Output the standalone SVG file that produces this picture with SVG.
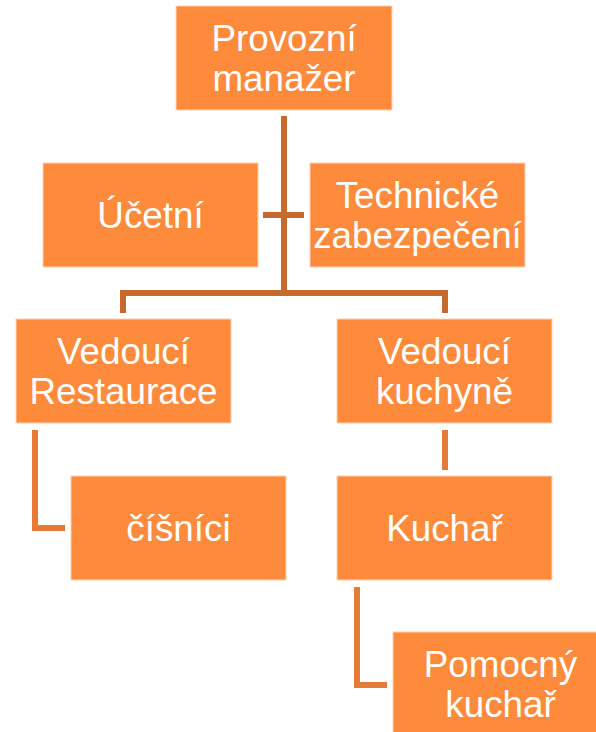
<svg xmlns="http://www.w3.org/2000/svg" width="596" height="732" viewBox="0 0 596 732">
<style>
.box{fill:#FE8A3B;stroke:#FFD2B4;stroke-width:1}
.t{font-family:"Liberation Sans",Arial,sans-serif;font-size:36.8px;fill:#FFFFFF;text-anchor:middle}
.c1{fill:none;stroke:#C86A2E;stroke-width:6}
.c2{fill:none;stroke:#E57B36;stroke-width:6}
</style>
<rect width="596" height="732" fill="#FFFFFF"/>
<g id="connectors">
<path class="c1" d="M284 116V293"/>
<path class="c1" d="M263 215H304"/>
<path class="c1" d="M123 313V293H445V313"/>
<path class="c2" d="M445 430V470"/>
<path class="c2" d="M35 430V528H65"/>
<path class="c2" d="M357 587V685H387"/>
</g>
<g id="provozni-manazer">
<rect class="box" x="176" y="6" width="216" height="104"/>
<text class="t" x="284" y="50.5">Provozní</text>
<text class="t" x="284" y="90.5">manažer</text>
</g>
<g id="ucetni">
<rect class="box" x="43" y="163" width="215" height="104"/>
<text class="t" x="150.5" y="227.5">Účetní</text>
</g>
<g id="technicke-zabezpeceni">
<rect class="box" x="310" y="163" width="215" height="104"/>
<text class="t" x="417.5" y="207.5">Technické</text>
<text class="t" x="417.5" y="247.5">zabezpečení</text>
</g>
<g id="vedouci-restaurace">
<rect class="box" x="16" y="319" width="215" height="104"/>
<text class="t" x="123.5" y="363.5">Vedoucí</text>
<text class="t" x="123.5" y="403.5">Restaurace</text>
</g>
<g id="vedouci-kuchyne">
<rect class="box" x="337" y="319" width="215" height="104"/>
<text class="t" x="444.5" y="363.5">Vedoucí</text>
<text class="t" x="444.5" y="403.5">kuchyně</text>
</g>
<g id="cisnici">
<rect class="box" x="71" y="476" width="215" height="104"/>
<text class="t" x="178.5" y="540.5">číšníci</text>
</g>
<g id="kuchar">
<rect class="box" x="337" y="476" width="215" height="104"/>
<text class="t" x="444.5" y="540.5">Kuchař</text>
</g>
<g id="pomocny-kuchar">
<rect class="box" x="393" y="632" width="215" height="104"/>
<text class="t" x="500.5" y="676.5">Pomocný</text>
<text class="t" x="500.5" y="716.5">kuchař</text>
</g>
</svg>
